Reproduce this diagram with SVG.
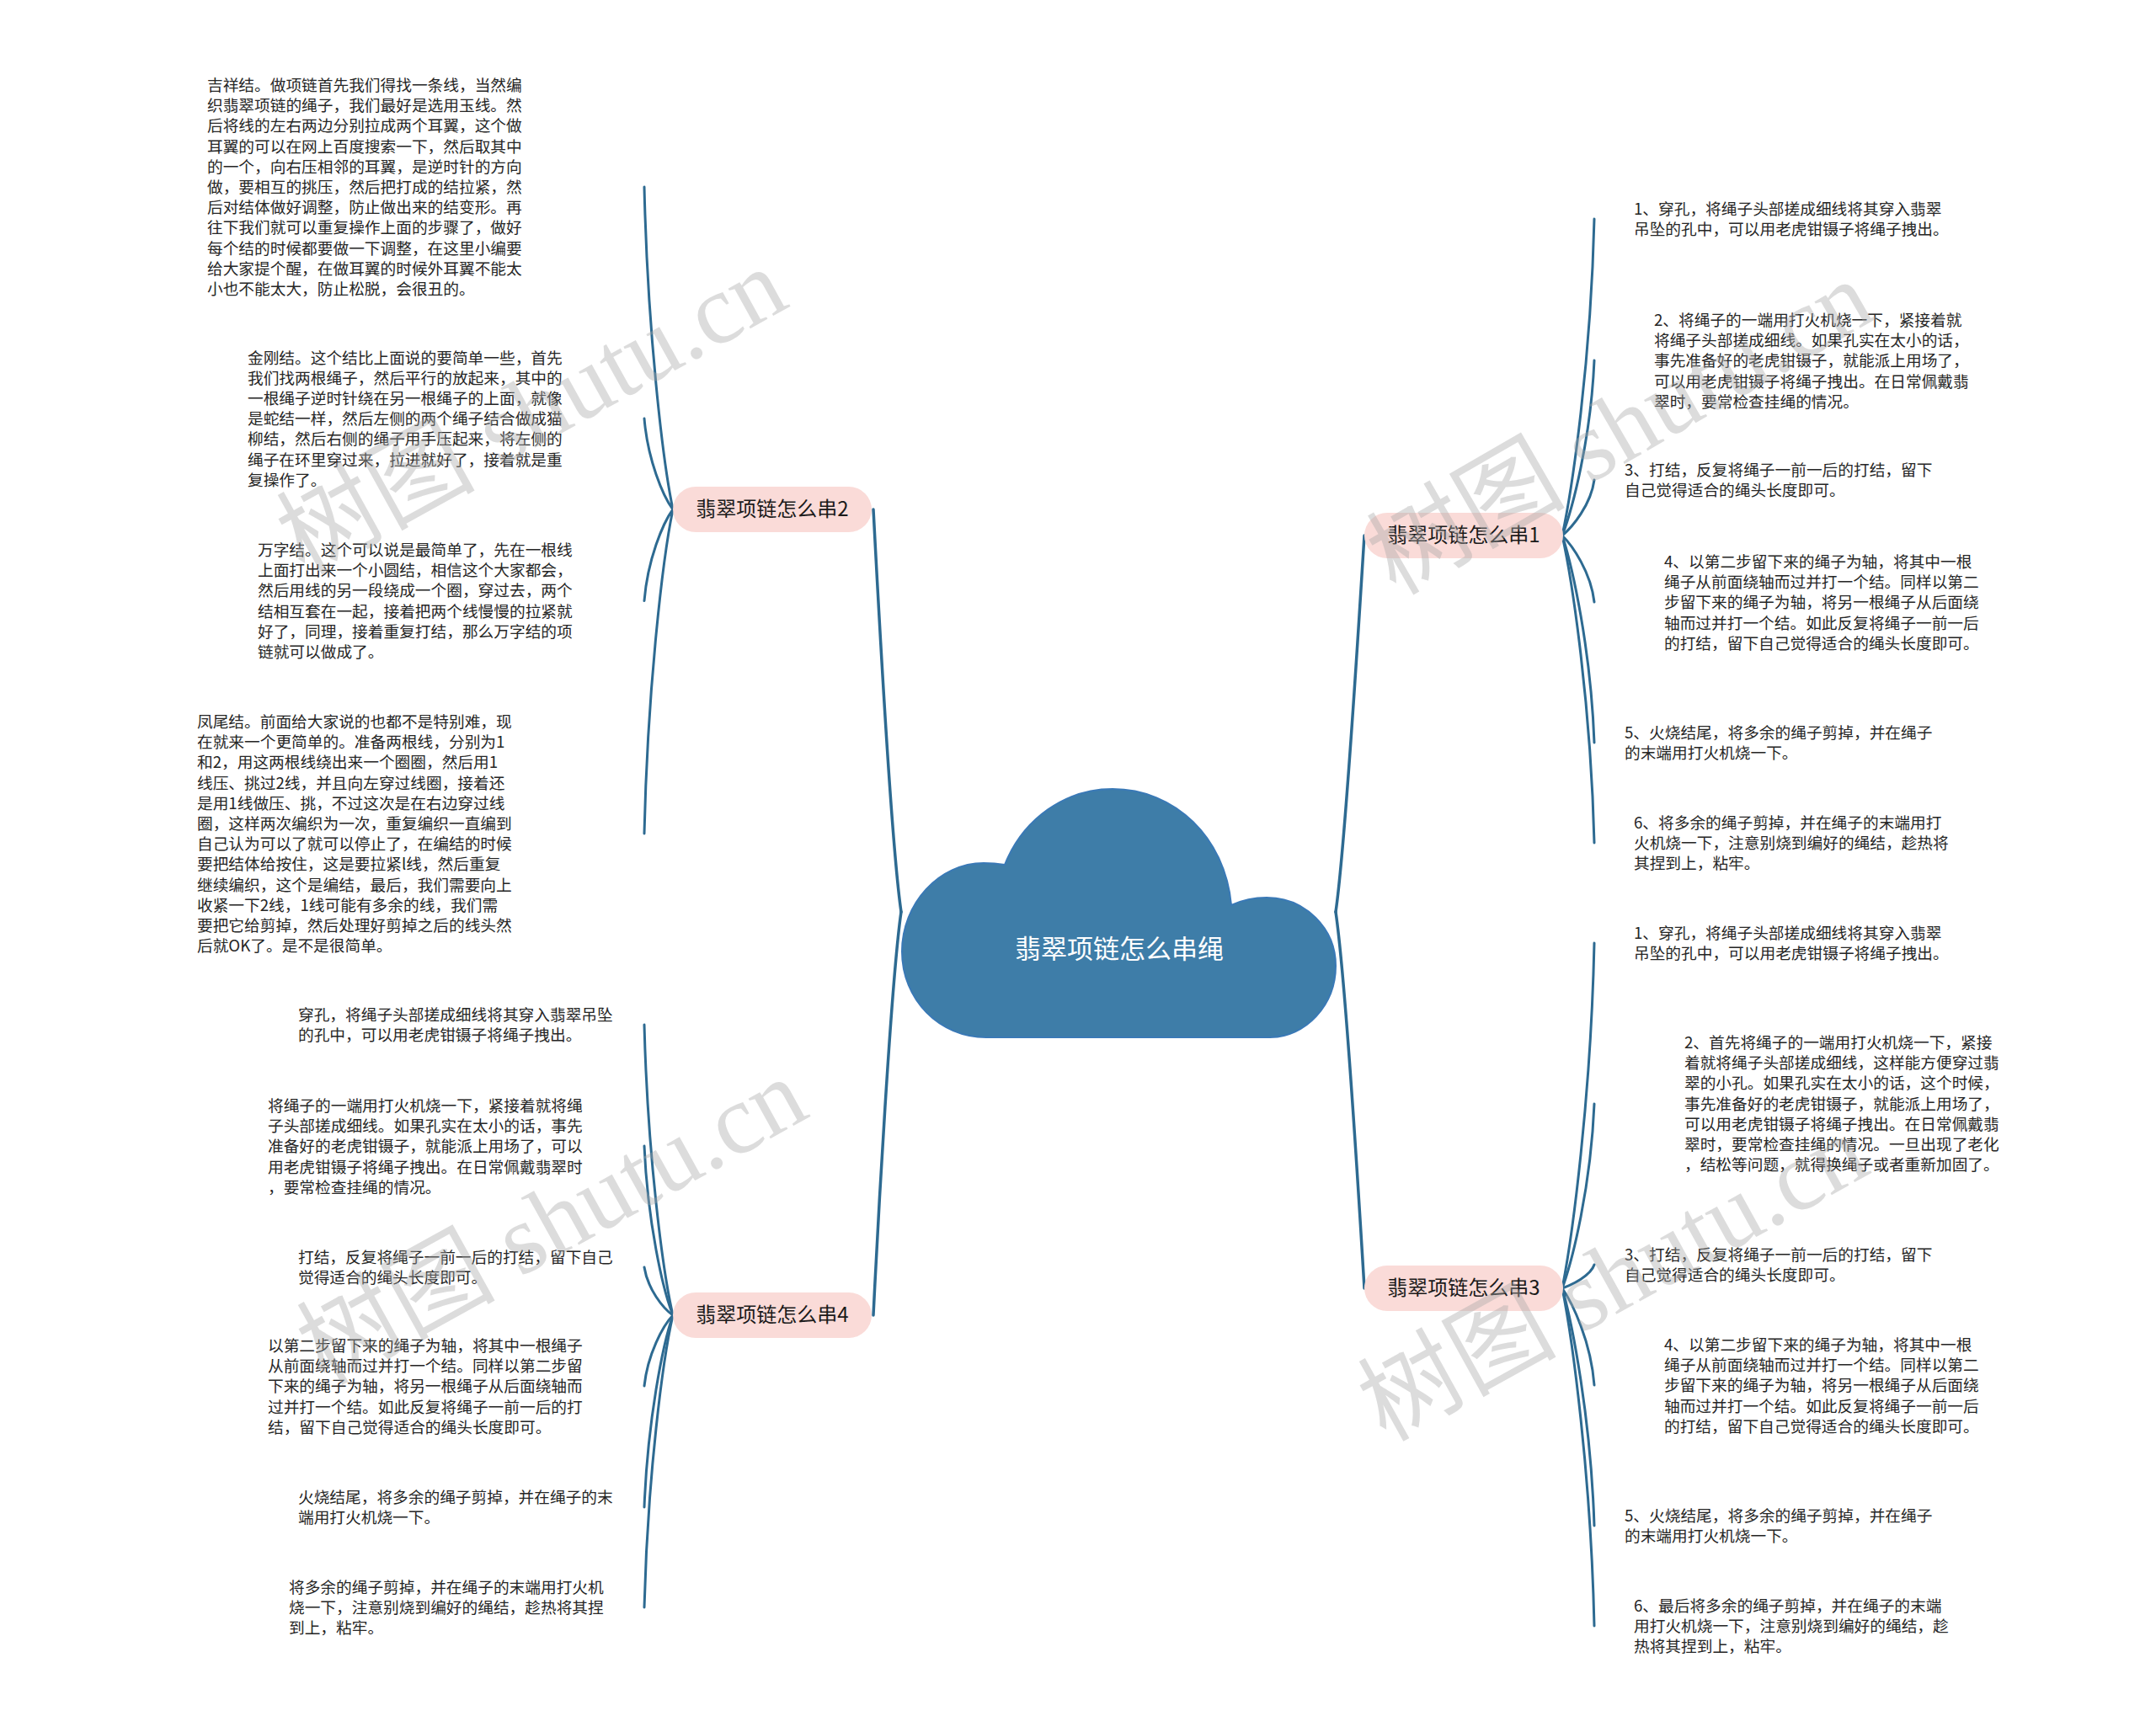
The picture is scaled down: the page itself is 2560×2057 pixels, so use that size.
<svg xmlns="http://www.w3.org/2000/svg" width="2560" height="2057" viewBox="0 0 2560 2057">
<style>
.t{font-family:"Noto Sans CJK SC","Noto Sans",sans-serif;font-size:18.7px;fill:#262626}
.pill{fill:#fadbd8}
.pt{font-family:"Noto Sans CJK SC","Noto Sans",sans-serif;font-size:24px;fill:#1a1a1a;text-anchor:middle}
.ct{font-family:"Noto Sans CJK SC","Noto Sans",sans-serif;font-size:31px;fill:#ffffff;text-anchor:middle}
.c{fill:none;stroke:#2d6a91;stroke-width:3;stroke-linecap:round}
.cm{fill:none;stroke:#2d6a91;stroke-width:3.5;stroke-linecap:round}
.wm{font-family:"Liberation Serif","Noto Sans CJK SC",serif;font-size:118px;fill:#a8a8a8;fill-opacity:0.4}
</style>
<rect width="2560" height="2057" fill="#ffffff"/>

<g id="connectors">
<path class="cm" d="M1070 1083 C1058 1000 1042 700 1037 605"/>
<path class="cm" d="M1070 1083 C1058 1166 1042 1460 1037 1562"/>
<path class="cm" d="M1586 1083 C1598 1000 1614 730 1620 636"/>
<path class="cm" d="M1586 1083 C1598 1166 1614 1430 1620 1530"/>

<path class="c" d="M799 605 C787 547.6 769 394.4 765 222"/>
<path class="c" d="M799 605 C787 588.8 769 545.6 765 497"/>
<path class="c" d="M799 605 C787 621.3 769 664.7 765 713.5"/>
<path class="c" d="M799 605 C787 662.8 769 816.8 765 990"/>

<path class="c" d="M799 1562 C787 1510.3 769 1372.3 765 1217"/>
<path class="c" d="M799 1562 C787 1531.9 769 1451.5 765 1361"/>
<path class="c" d="M799 1562 C787 1553.5 769 1530.7 765 1505"/>
<path class="c" d="M799 1562 C787 1574.6 769 1608.2 765 1646"/>
<path class="c" d="M799 1562 C787 1596.2 769 1687.4 765 1790"/>
<path class="c" d="M799 1562 C787 1614.1 769 1752.9 765 1909"/>

<path class="c" d="M1855 636 C1867 579.6 1889 429.2 1893 260"/>
<path class="c" d="M1855 636 C1867 604.8 1889 521.6 1893 428"/>
<path class="c" d="M1855 636 C1867 626.1 1889 599.7 1893 570"/>
<path class="c" d="M1855 636 C1867 647.9 1889 679.5 1893 715"/>
<path class="c" d="M1855 636 C1867 672.9 1889 771.3 1893 882"/>
<path class="c" d="M1855 636 C1867 690.8 1889 836.8 1893 1001"/>

<path class="c" d="M1855 1530 C1867 1468.5 1889 1304.5 1893 1120"/>
<path class="c" d="M1855 1530 C1867 1497.2 1889 1409.6 1893 1311"/>
<path class="c" d="M1855 1530 C1867 1525.8 1889 1514.6 1893 1502"/>
<path class="c" d="M1855 1530 C1867 1547.3 1889 1593.3 1893 1645"/>
<path class="c" d="M1855 1530 C1867 1572.3 1889 1685.1 1893 1812"/>
<path class="c" d="M1855 1530 C1867 1590.2 1889 1750.6 1893 1931"/>
</g>

<g id="root">
<path d="M1171 1232 C1115 1232 1071 1187 1071 1130 C1071 1073 1115 1025 1168 1025 Q1181 1025 1193 1027 C1215 972 1265 937 1321 937 C1395 937 1455 995 1462 1075 C1475 1069 1490 1066 1504 1066 C1550 1066 1586 1103 1586 1147 C1586 1194 1550 1232 1508 1232 Z" fill="#3e7da8" stroke="#3a79b6" stroke-width="2"/>
<text class="ct" x="1329" y="1138">翡翠项链怎么串绳</text>
</g>

<g id="b2">
<rect class="pill" x="799" y="578" width="236" height="54" rx="27"/>
<text class="pt" x="917" y="613">翡翠项链怎么串2</text>
</g>
<g id="b4">
<rect class="pill" x="799" y="1535" width="236" height="54" rx="27"/>
<text class="pt" x="917" y="1570">翡翠项链怎么串4</text>
</g>
<g id="b1">
<rect class="pill" x="1620" y="609" width="236" height="54" rx="27"/>
<text class="pt" x="1738" y="644">翡翠项链怎么串1</text>
</g>
<g id="b3">
<rect class="pill" x="1620" y="1503" width="236" height="54" rx="27"/>
<text class="pt" x="1738" y="1538">翡翠项链怎么串3</text>
</g>

<g id="b2-1"><text class="t" x="246" y="108"><tspan x="246">吉祥结。做项链首先我们得找一条线，当然编</tspan><tspan x="246" dy="24.2">织翡翠项链的绳子，我们最好是选用玉线。然</tspan><tspan x="246" dy="24.2">后将线的左右两边分别拉成两个耳翼，这个做</tspan><tspan x="246" dy="24.2">耳翼的可以在网上百度搜索一下，然后取其中</tspan><tspan x="246" dy="24.2">的一个，向右压相邻的耳翼，是逆时针的方向</tspan><tspan x="246" dy="24.2">做，要相互的挑压，然后把打成的结拉紧，然</tspan><tspan x="246" dy="24.2">后对结体做好调整，防止做出来的结变形。再</tspan><tspan x="246" dy="24.2">往下我们就可以重复操作上面的步骤了，做好</tspan><tspan x="246" dy="24.2">每个结的时候都要做一下调整，在这里小编要</tspan><tspan x="246" dy="24.2">给大家提个醒，在做耳翼的时候外耳翼不能太</tspan><tspan x="246" dy="24.2">小也不能太大，防止松脱，会很丑的。</tspan></text></g>

<g id="b2-2"><text class="t" x="294" y="431.5"><tspan x="294">金刚结。这个结比上面说的要简单一些，首先</tspan><tspan x="294" dy="24.2">我们找两根绳子，然后平行的放起来，其中的</tspan><tspan x="294" dy="24.2">一根绳子逆时针绕在另一根绳子的上面，就像</tspan><tspan x="294" dy="24.2">是蛇结一样，然后左侧的两个绳子结合做成猫</tspan><tspan x="294" dy="24.2">柳结，然后右侧的绳子用手压起来，将左侧的</tspan><tspan x="294" dy="24.2">绳子在环里穿过来，拉进就好了，接着就是重</tspan><tspan x="294" dy="24.2">复操作了。</tspan></text></g>

<g id="b2-3"><text class="t" x="306" y="660"><tspan x="306">万字结。这个可以说是最简单了，先在一根线</tspan><tspan x="306" dy="24.2">上面打出来一个小圆结，相信这个大家都会，</tspan><tspan x="306" dy="24.2">然后用线的另一段绕成一个圈，穿过去，两个</tspan><tspan x="306" dy="24.2">结相互套在一起，接着把两个线慢慢的拉紧就</tspan><tspan x="306" dy="24.2">好了，同理，接着重复打结，那么万字结的项</tspan><tspan x="306" dy="24.2">链就可以做成了。</tspan></text></g>

<g id="b2-4"><text class="t" x="234" y="864"><tspan x="234">凤尾结。前面给大家说的也都不是特别难，现</tspan><tspan x="234" dy="24.2">在就来一个更简单的。准备两根线，分别为1</tspan><tspan x="234" dy="24.2">和2，用这两根线绕出来一个圈圈，然后用1</tspan><tspan x="234" dy="24.2">线压、挑过2线，并且向左穿过线圈，接着还</tspan><tspan x="234" dy="24.2">是用1线做压、挑，不过这次是在右边穿过线</tspan><tspan x="234" dy="24.2">圈，这样两次编织为一次，重复编织一直编到</tspan><tspan x="234" dy="24.2">自己认为可以了就可以停止了，在编结的时候</tspan><tspan x="234" dy="24.2">要把结体给按住，这是要拉紧l线，然后重复</tspan><tspan x="234" dy="24.2">继续编织，这个是编结，最后，我们需要向上</tspan><tspan x="234" dy="24.2">收紧一下2线，1线可能有多余的线，我们需</tspan><tspan x="234" dy="24.2">要把它给剪掉，然后处理好剪掉之后的线头然</tspan><tspan x="234" dy="24.2">后就OK了。是不是很简单。</tspan></text></g>

<g id="b4-1"><text class="t" x="354" y="1212"><tspan x="354">穿孔，将绳子头部搓成细线将其穿入翡翠吊坠</tspan><tspan x="354" dy="24.2">的孔中，可以用老虎钳镊子将绳子拽出。</tspan></text></g>
<g id="b4-2"><text class="t" x="318" y="1320"><tspan x="318">将绳子的一端用打火机烧一下，紧接着就将绳</tspan><tspan x="318" dy="24.2">子头部搓成细线。如果孔实在太小的话，事先</tspan><tspan x="318" dy="24.2">准备好的老虎钳镊子，就能派上用场了，可以</tspan><tspan x="318" dy="24.2">用老虎钳镊子将绳子拽出。在日常佩戴翡翠时</tspan><tspan x="318" dy="24.2">，要常检查挂绳的情况。</tspan></text></g>
<g id="b4-3"><text class="t" x="354" y="1500"><tspan x="354">打结，反复将绳子一前一后的打结，留下自己</tspan><tspan x="354" dy="24.2">觉得适合的绳头长度即可。</tspan></text></g>
<g id="b4-4"><text class="t" x="318" y="1605"><tspan x="318">以第二步留下来的绳子为轴，将其中一根绳子</tspan><tspan x="318" dy="24.2">从前面绕轴而过并打一个结。同样以第二步留</tspan><tspan x="318" dy="24.2">下来的绳子为轴，将另一根绳子从后面绕轴而</tspan><tspan x="318" dy="24.2">过并打一个结。如此反复将绳子一前一后的打</tspan><tspan x="318" dy="24.2">结，留下自己觉得适合的绳头长度即可。</tspan></text></g>
<g id="b4-5"><text class="t" x="354" y="1785"><tspan x="354">火烧结尾，将多余的绳子剪掉，并在绳子的末</tspan><tspan x="354" dy="24.2">端用打火机烧一下。</tspan></text></g>
<g id="b4-6"><text class="t" x="343" y="1892"><tspan x="343">将多余的绳子剪掉，并在绳子的末端用打火机</tspan><tspan x="343" dy="24.2">烧一下，注意别烧到编好的绳结，趁热将其捏</tspan><tspan x="343" dy="24.2">到上，粘牢。</tspan></text></g>

<g id="b1-1"><text class="t" x="1940" y="255"><tspan x="1940">1、穿孔，将绳子头部搓成细线将其穿入翡翠</tspan><tspan x="1940" dy="24.2">吊坠的孔中，可以用老虎钳镊子将绳子拽出。</tspan></text></g>
<g id="b1-2"><text class="t" x="1964" y="387"><tspan x="1964">2、将绳子的一端用打火机烧一下，紧接着就</tspan><tspan x="1964" dy="24.2">将绳子头部搓成细线。如果孔实在太小的话，</tspan><tspan x="1964" dy="24.2">事先准备好的老虎钳镊子，就能派上用场了，</tspan><tspan x="1964" dy="24.2">可以用老虎钳镊子将绳子拽出。在日常佩戴翡</tspan><tspan x="1964" dy="24.2">翠时，要常检查挂绳的情况。</tspan></text></g>
<g id="b1-3"><text class="t" x="1929" y="565"><tspan x="1929">3、打结，反复将绳子一前一后的打结，留下</tspan><tspan x="1929" dy="24.2">自己觉得适合的绳头长度即可。</tspan></text></g>
<g id="b1-4"><text class="t" x="1976" y="674"><tspan x="1976">4、以第二步留下来的绳子为轴，将其中一根</tspan><tspan x="1976" dy="24.2">绳子从前面绕轴而过并打一个结。同样以第二</tspan><tspan x="1976" dy="24.2">步留下来的绳子为轴，将另一根绳子从后面绕</tspan><tspan x="1976" dy="24.2">轴而过并打一个结。如此反复将绳子一前一后</tspan><tspan x="1976" dy="24.2">的打结，留下自己觉得适合的绳头长度即可。</tspan></text></g>
<g id="b1-5"><text class="t" x="1929" y="877"><tspan x="1929">5、火烧结尾，将多余的绳子剪掉，并在绳子</tspan><tspan x="1929" dy="24.2">的末端用打火机烧一下。</tspan></text></g>
<g id="b1-6"><text class="t" x="1940" y="984"><tspan x="1940">6、将多余的绳子剪掉，并在绳子的末端用打</tspan><tspan x="1940" dy="24.2">火机烧一下，注意别烧到编好的绳结，趁热将</tspan><tspan x="1940" dy="24.2">其捏到上，粘牢。</tspan></text></g>

<g id="b3-1"><text class="t" x="1940" y="1115"><tspan x="1940">1、穿孔，将绳子头部搓成细线将其穿入翡翠</tspan><tspan x="1940" dy="24.2">吊坠的孔中，可以用老虎钳镊子将绳子拽出。</tspan></text></g>
<g id="b3-2"><text class="t" x="2000" y="1245"><tspan x="2000">2、首先将绳子的一端用打火机烧一下，紧接</tspan><tspan x="2000" dy="24.2">着就将绳子头部搓成细线，这样能方便穿过翡</tspan><tspan x="2000" dy="24.2">翠的小孔。如果孔实在太小的话，这个时候，</tspan><tspan x="2000" dy="24.2">事先准备好的老虎钳镊子，就能派上用场了，</tspan><tspan x="2000" dy="24.2">可以用老虎钳镊子将绳子拽出。在日常佩戴翡</tspan><tspan x="2000" dy="24.2">翠时，要常检查挂绳的情况。一旦出现了老化</tspan><tspan x="2000" dy="24.2">，结松等问题，就得换绳子或者重新加固了。</tspan></text></g>
<g id="b3-3"><text class="t" x="1929" y="1497"><tspan x="1929">3、打结，反复将绳子一前一后的打结，留下</tspan><tspan x="1929" dy="24.2">自己觉得适合的绳头长度即可。</tspan></text></g>
<g id="b3-4"><text class="t" x="1976" y="1604"><tspan x="1976">4、以第二步留下来的绳子为轴，将其中一根</tspan><tspan x="1976" dy="24.2">绳子从前面绕轴而过并打一个结。同样以第二</tspan><tspan x="1976" dy="24.2">步留下来的绳子为轴，将另一根绳子从后面绕</tspan><tspan x="1976" dy="24.2">轴而过并打一个结。如此反复将绳子一前一后</tspan><tspan x="1976" dy="24.2">的打结，留下自己觉得适合的绳头长度即可。</tspan></text></g>
<g id="b3-5"><text class="t" x="1929" y="1807"><tspan x="1929">5、火烧结尾，将多余的绳子剪掉，并在绳子</tspan><tspan x="1929" dy="24.2">的末端用打火机烧一下。</tspan></text></g>
<g id="b3-6"><text class="t" x="1940" y="1914"><tspan x="1940">6、最后将多余的绳子剪掉，并在绳子的末端</tspan><tspan x="1940" dy="24.2">用打火机烧一下，注意别烧到编好的绳结，趁</tspan><tspan x="1940" dy="24.2">热将其捏到上，粘牢。</tspan></text></g>

<g id="watermarks">
<text class="wm" transform="translate(361 684) rotate(-29)">树图 shutu.cn</text>
<text class="wm" transform="translate(1657 708) rotate(-30)">树图 shutu.cn</text>
<text class="wm" transform="translate(385 1646) rotate(-29)">树图 shutu.cn</text>
<text class="wm" transform="translate(1645 1713) rotate(-29)">树图 shutu.cn</text>
</g>
</svg>
